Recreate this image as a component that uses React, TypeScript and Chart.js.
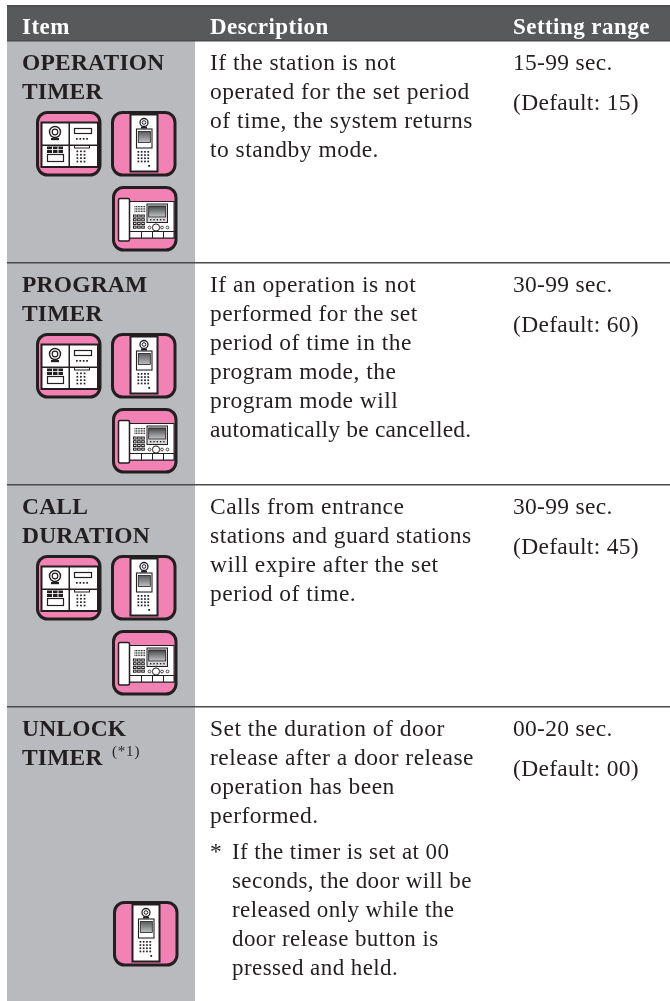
import React, { useEffect, useRef } from "react";
import { Chart, registerables } from "chart.js";

Chart.register(...registerables);

const columnHeaders = ["Item", "Description", "Setting range"];
const itemLines = [
  ["OPERATION", "TIMER"],
  ["PROGRAM", "TIMER"],
  ["CALL", "DURATION"],
  ["UNLOCK", "TIMER"],
];
const descriptionLines = [
  ["If the station is not", "operated for the set period", "of time, the system returns", "to standby mode."],
  ["If an operation is not", "performed for the set", "period of time in the", "program mode, the", "program mode will", "automatically be cancelled."],
  ["Calls from entrance", "stations and guard stations", "will expire after the set", "period of time."],
  ["Set the duration of door", "release after a door release", "operation has been", "performed."],
];
const noteLines = ["If the timer is set at 00", "seconds, the door will be", "released only while the", "door release button is", "pressed and held."];
const rangeValues = ["15-99 sec.", "30-99 sec.", "30-99 sec.", "00-20 sec."];
const defaultValues = ["(Default: 15)", "(Default: 60)", "(Default: 45)", "(Default: 00)"];
const rowEdges = [41, 263, 485, 707, 1001];
const firstBaselines = [70, 292, 514, 736];
const iconSets = [
  [["panel", 36, 111], ["door", 111, 111], ["monitor", 112, 186]],
  [["panel", 36, 333], ["door", 111, 333], ["monitor", 112, 408]],
  [["panel", 36, 555], ["door", 111, 555], ["monitor", 112, 630]],
  [["door", 113, 901]],
];

const INK = "#231f20";
const PINK = "#f282b4";

function rr(c: CanvasRenderingContext2D, x: number, y: number, w: number, h: number, r: number) {
  c.beginPath();
  c.roundRect(x, y, w, h, r);
}
function box(c: CanvasRenderingContext2D, x: number, y: number, w: number, h: number, lw = 1, fill = "#fff") {
  c.fillStyle = fill;
  c.fillRect(x, y, w, h);
  c.strokeStyle = INK;
  c.lineWidth = lw;
  c.strokeRect(x, y, w, h);
}
function dots(c: CanvasRenderingContext2D, x: number, y: number, cols: number, rows: number, dx: number, dy: number, s = 1.7) {
  c.fillStyle = INK;
  for (let i = 0; i < cols; i++) for (let j = 0; j < rows; j++) c.fillRect(x + i * dx, y + j * dy, s, s);
}
function ring(c: CanvasRenderingContext2D, x: number, y: number, r: number, lw = 1, fill = "#fff") {
  c.beginPath();
  c.arc(x, y, r, 0, Math.PI * 2);
  c.fillStyle = fill;
  c.fill();
  c.strokeStyle = INK;
  c.lineWidth = lw;
  c.stroke();
}
function shell(c: CanvasRenderingContext2D) {
  rr(c, 1.5, 1.5, 62.5, 62.5, 10);
  c.fillStyle = PINK;
  c.fill();
  c.strokeStyle = INK;
  c.lineWidth = 3;
  c.stroke();
}
function panelIcon(c: CanvasRenderingContext2D) {
  shell(c);
  box(c, 5.5, 11.5, 56.5, 44.5, 2);
  c.fillStyle = INK;
  c.fillRect(32.5, 11, 1.5, 45);
  c.fillRect(5, 33.5, 57, 1.5);
  ring(c, 19, 21, 5.5, 1.4);
  ring(c, 19, 21, 2.8, 1.2);
  c.fillStyle = INK;
  c.fillRect(15, 27, 8, 2.2);
  box(c, 38.5, 17.5, 17, 5, 1.2);
  dots(c, 40, 27, 4, 1, 3.4, 0);
  c.fillStyle = INK;
  c.fillRect(11, 35.5, 16, 6.5);
  c.fillStyle = "#fff";
  c.fillRect(16, 35.5, 1, 6.5);
  c.fillRect(21.5, 35.5, 1, 6.5);
  c.fillRect(11, 38.2, 16, 0.8);
  box(c, 11.5, 43.5, 16, 7, 1.2);
  box(c, 38.5, 34.5, 15, 2.5, 1);
  dots(c, 40.5, 39.5, 3, 4, 3.6, 3.4);
}
function doorIcon(c: CanvasRenderingContext2D) {
  shell(c);
  box(c, 19.5, 3.5, 27, 57, 2);
  ring(c, 33, 11.5, 4, 1.3);
  ring(c, 33, 11.5, 1.8, 1);
  c.fillStyle = INK;
  c.fillRect(30, 15.5, 6, 2);
  box(c, 25.5, 18, 15.5, 19, 1.1);
  const g = c.createLinearGradient(0, 20, 0, 32);
  g.addColorStop(0, "#555658");
  g.addColorStop(1, "#c4c5c7");
  c.fillStyle = g;
  c.fillRect(27.3, 20.5, 12, 11);
  c.strokeStyle = INK;
  c.lineWidth = 0.8;
  c.strokeRect(27.3, 20.5, 12, 11);
  dots(c, 26.5, 40, 4, 4, 3.3, 3.2);
  c.fillRect(37.3, 54, 1.8, 1.8);
}
function monitorIcon(c: CanvasRenderingContext2D) {
  shell(c);
  box(c, 17.5, 15.5, 44.5, 36.5, 1);
  box(c, 17.5, 45.5, 44.5, 6.5, 1);
  c.fillStyle = INK;
  [29, 40, 51].forEach((x) => c.fillRect(x, 45.5, 1, 6.5));
  rr(c, 6.5, 12.5, 11, 42.5, 1.5);
  c.fillStyle = "#fff";
  c.fill();
  c.strokeStyle = INK;
  c.lineWidth = 1.5;
  c.stroke();
  box(c, 35, 18, 20.5, 18.5, 1, "#d8d9da");
  const g = c.createLinearGradient(0, 20, 0, 31);
  g.addColorStop(0, "#444547");
  g.addColorStop(1, "#c4c5c7");
  c.fillStyle = g;
  c.fillRect(36.7, 20, 17, 11);
  c.strokeStyle = INK;
  c.lineWidth = 0.8;
  c.strokeRect(36.7, 20, 17, 11);
  dots(c, 38, 33, 5, 1, 3.3, 0, 1.4);
  dots(c, 22.5, 20, 7, 4, 1.6, 1.7, 1);
  for (let i = 0; i < 3; i++)
    for (let j = 0; j < 4; j++) {
      c.fillStyle = INK;
      c.fillRect(21 + i * 4.1, 28.5 + j * 3.7, 3.6, 3.1);
      c.fillStyle = "#fff";
      c.fillRect(22 + i * 4.1, 29.5 + j * 3.7, 1.6, 1.1);
    }
  ring(c, 44, 41.5, 3.6, 1);
  ring(c, 37.5, 41.5, 1.4, 0.8);
  ring(c, 50, 41.5, 1.4, 0.8);
  ring(c, 55.5, 41.5, 1.4, 0.8);
}
const iconPainters: Record<string, (c: CanvasRenderingContext2D) => void> = {
  panel: panelIcon,
  door: doorIcon,
  monitor: monitorIcon,
};

const tablePlugin = {
  id: "tableCells",
  afterDatasetsDraw(chart: any) {
    const c: CanvasRenderingContext2D = chart.ctx;
    const X = (v: number) => chart.scales.x.getPixelForValue(v);
    const Y = (v: number) => chart.scales.y.getPixelForValue(v);
    const text = (s: string, x: number, y: number, font: string, color: string, sp: number) => {
      c.font = font;
      c.fillStyle = color;
      (c as any).letterSpacing = sp + "px";
      c.textBaseline = "alphabetic";
      c.fillText(s, X(x), Y(y));
    };
    const serif = '"Liberation Serif", serif';
    const headFont = `bold 23px ${serif}`;
    const itemFont = `bold 23.5px ${serif}`;
    const bodyFont = `23.5px ${serif}`;
    const noteFont = `23px ${serif}`;
    c.save();
    [22, 210, 513].forEach((x, i) => text(columnHeaders[i], x, 34, headFont, "#ffffff", 0.45));
    itemLines.forEach((lines, r) =>
      lines.forEach((l, i) => text(l, 22, firstBaselines[r] + i * 29, itemFont, INK, 0.2)),
    );
    text("(*1)", 112, 756, `15px ${serif}`, INK, 0.8);
    descriptionLines.forEach((lines, r) =>
      lines.forEach((l, i) =>
        text(l, 210, firstBaselines[r] + i * 29, bodyFont, INK, l.startsWith("automatically") ? 0.18 : 0.48),
      ),
    );
    text("*", 210, 859, bodyFont, INK, 0);
    noteLines.forEach((l, i) => text(l, 232, 859 + i * 29, noteFont, INK, 0.42));
    rangeValues.forEach((l, r) => text(l, 513, firstBaselines[r], bodyFont, INK, 0.3));
    defaultValues.forEach((l, r) => text(l, 513, firstBaselines[r] + 40, bodyFont, INK, 0.3));
    (c as any).letterSpacing = "0px";
    iconSets.forEach((set) =>
      set.forEach(([kind, x, y]) => {
        c.save();
        c.translate(X(x as number), Y(y as number));
        iconPainters[kind as string](c);
        c.restore();
      }),
    );
    c.restore();
  },
};

export default function App() {
  const ref = useRef<HTMLCanvasElement>(null);
  useEffect(() => {
    const rule = "#4a4a4c";
    const chart = new Chart(ref.current!, {
      type: "bar",
      data: {
        datasets: [
          {
            label: "Header band",
            data: [{ x: 338.5, y: [6, rowEdges[0]] }],
            backgroundColor: "#58595b",
            barThickness: 663,
            grouped: false,
            inflateAmount: 0,
            order: 3,
          },
          {
            label: "Item column",
            data: rowEdges.slice(0, 4).map((e, i) => ({ x: 101, y: [e, rowEdges[i + 1]] })),
            backgroundColor: "#b9babd",
            barThickness: 188,
            grouped: false,
            inflateAmount: 0,
            order: 2,
          },
          {
            label: "Rules",
            data: [5, ...rowEdges.slice(0, 4)].map((e) => ({ x: 338.5, y: [e - (e === 5 ? 0 : 1), e + (e === 5 ? 1.5 : 0.5)] })),
            backgroundColor: rule,
            barThickness: 663,
            grouped: false,
            inflateAmount: 0,
            order: 1,
          },
        ],
      } as any,
      options: {
        animation: false,
        responsive: false,
        events: [],
        layout: { padding: 0 },
        plugins: { legend: { display: false }, tooltip: { enabled: false } },
        scales: {
          x: { type: "linear", min: 0, max: 670, display: false, offset: false },
          y: { type: "linear", min: 0, max: 1001, reverse: true, display: false },
        },
      } as any,
      plugins: [tablePlugin],
    });
    return () => chart.destroy();
  }, []);
  return (
    <canvas
      ref={ref}
      width={670}
      height={1001}
      style={{ position: "fixed", left: 0, top: 0, display: "block", width: 670, height: 1001 }}
    />
  );
}
